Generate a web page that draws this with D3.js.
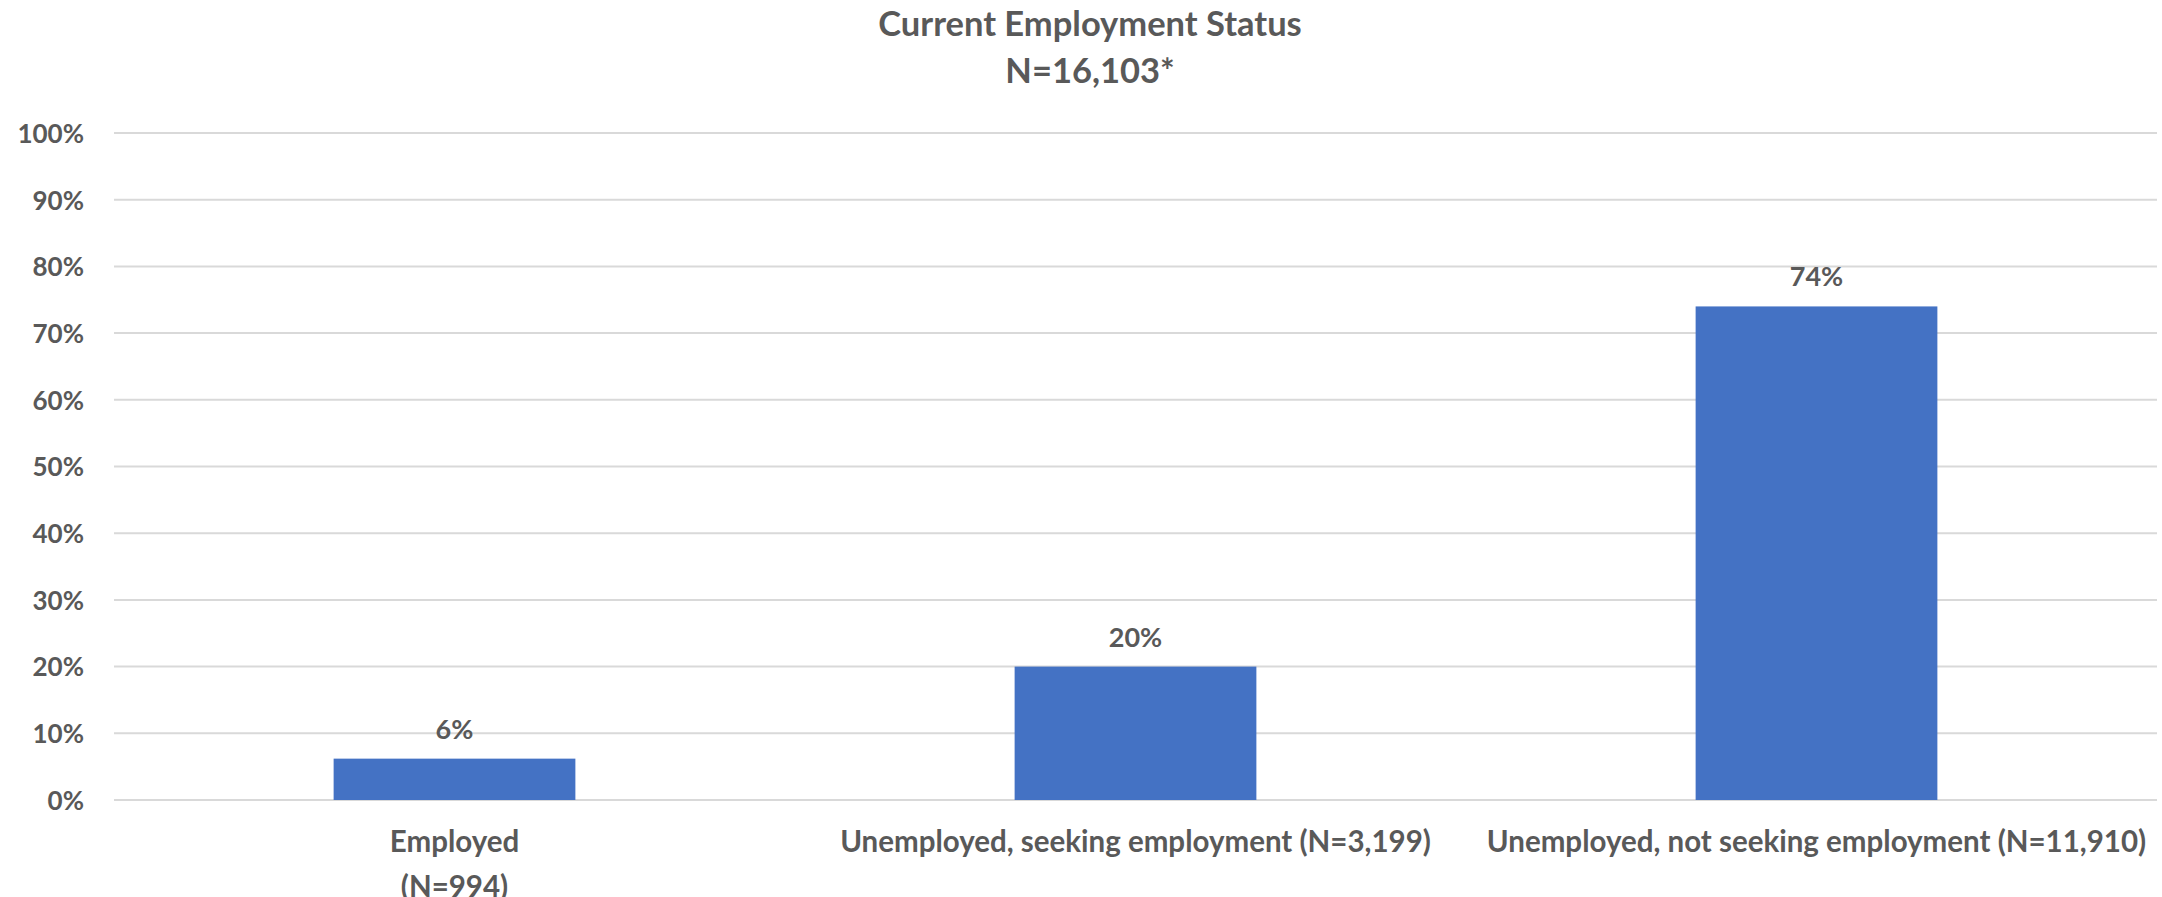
<!DOCTYPE html>
<html lang="en">
<head>
    <meta charset="UTF-8">
    <title>Current Employment Status</title>
    <script src="https://d3js.org/d3.v7.min.js"></script>
    <style>
        body { margin: 0; background: #fff; }
        text { font-family: Lato, "Open Sans", sans-serif; font-weight: bold; fill: #595959; }
    </style>
</head>
<body>
<svg></svg>
<script>
    // data
    var categories = ["Employed\n(N=994)", "Unemployed, seeking employment (N=3,199)", "Unemployed, not seeking employment (N=11,910)"];
    var values = [6.2, 20, 74];
    var valueLabels = ["6%", "20%", "74%"];
    var yTicks = [0, 10, 20, 30, 40, 50, 60, 70, 80, 90, 100];
    var titleLines = ["Current Employment Status", "N=16,103*"];

    var width = 2162, height = 897;
    var margin = {top: 133, right: 5, bottom: 97, left: 114};

    var svg = d3.select("svg")
            .attr("width", width)
            .attr("height", height);

    var x = d3.scaleBand()
            .domain(categories)
            .range([margin.left, width - margin.right])
            .paddingInner(0.645)
            .paddingOuter(0.3225);

    var y = d3.scaleLinear()
            .domain([0, 100])
            .range([height - margin.bottom, margin.top]);

    // gridlines
    svg.append("g")
            .selectAll("line")
            .data(yTicks)
            .enter()
            .append("line")
            .attr("x1", margin.left)
            .attr("x2", width - margin.right)
            .attr("y1", function (d) { return y(d); })
            .attr("y2", function (d) { return y(d); })
            .attr("stroke", "#d9d9d9")
            .attr("stroke-width", 2);

    // y axis labels
    var yAxis = d3.axisLeft(y)
            .tickValues(yTicks)
            .tickFormat(function (d) { return d + "%"; })
            .tickSize(0)
            .tickPadding(0);
    var yg = svg.append("g")
            .attr("transform", "translate(" + 84 + ",0)")
            .call(yAxis);
    yg.select(".domain").remove();
    yg.selectAll("text")
            .attr("font-size", 26)
            .attr("dy", "0.36em")
            .style("font-family", null);

    // bars
    svg.selectAll("rect.bar")
            .data(values)
            .enter()
            .append("rect")
            .attr("class", "bar")
            .attr("x", function (d, i) { return x(categories[i]); })
            .attr("y", function (d) { return y(d); })
            .attr("width", x.bandwidth())
            .attr("height", function (d) { return y(0) - y(d); })
            .attr("fill", "#4472c4");

    // value labels
    svg.selectAll("text.val")
            .data(values)
            .enter()
            .append("text")
            .attr("class", "val")
            .attr("x", function (d, i) { return x(categories[i]) + x.bandwidth() / 2; })
            .attr("y", function (d) { return y(d) - 20; })
            .attr("text-anchor", "middle")
            .attr("font-size", 27)
            .text(function (d, i) { return valueLabels[i]; });

    // category labels
    var cat = svg.selectAll("text.cat")
            .data(categories)
            .enter()
            .append("text")
            .attr("class", "cat")
            .attr("text-anchor", "middle")
            .attr("font-size", 29.5)
            .attr("y", 852);
    cat.each(function (d) {
        var t = d3.select(this);
        var cx = x(d) + x.bandwidth() / 2;
        d.split("\n").forEach(function (line, i) {
            t.append("tspan")
                    .attr("x", cx)
                    .attr("dy", i === 0 ? 0 : 45)
                    .text(line);
        });
    });

    // title
    svg.selectAll("text.title")
            .data(titleLines)
            .enter()
            .append("text")
            .attr("class", "title")
            .attr("x", 1090)
            .attr("y", function (d, i) { return 36 + i * 47; })
            .attr("text-anchor", "middle")
            .attr("font-size", 34.5)
            .text(function (d) { return d; });
</script>
</body>
</html>
